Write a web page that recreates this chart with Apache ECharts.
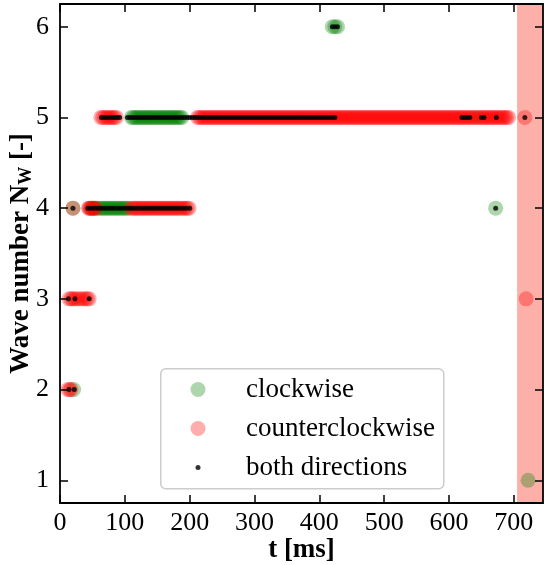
<!DOCTYPE html>
<html>
<head>
<meta charset="utf-8">
<script src="https://cdn.jsdelivr.net/npm/echarts@6/dist/echarts.min.js"></script>
<style>
html,body{margin:0;padding:0;background:#fff;}
#chart{width:544px;height:565px;}
</style>
</head>
<body>
<div id="chart"></div>
<script>
// ---- data (t in ms, per wave number row) ----
const xTicks = [0, 100, 200, 300, 400, 500, 600, 700];
const yTicks = [1, 2, 3, 4, 5, 6];
const legendNames = ['clockwise', 'counterclockwise', 'both directions'];
const shadeRange = [705, 745];

const cwRow1 = [722];
const cwRow2 = [21];
const cwRow4 = [20, 48, 52, 56, 60, 63, 66, 69, 72, 75, 78, 81, 84, 87, 90, 93, 96, 99, 102, 105, 672];
const cwRow5 = [110, 113, 116, 119, 122, 125, 128, 131, 134, 137, 140, 143, 146, 149, 152, 155, 158, 161, 164, 167, 170,
  173, 176, 179, 182, 185, 188, 641];
const cwRow6 = [420, 424, 428];

const ccwRow2 = [12, 15, 17];
const ccwRow3 = [14, 17, 20, 23, 27, 31, 35, 39, 42, 45, 719];
const ccwRow4 = [20, 44, 45, 47, 49, 51, 53, 55,
  109, 112, 115, 118, 121, 124, 127, 130, 133, 136, 139, 142, 145, 148, 151, 154, 157, 160, 163, 166, 169, 172, 175, 178,
  181, 184, 187, 190, 193, 196, 199];
const ccwRow5 = [63, 66, 69, 72, 75, 78, 81, 84, 87,
  212, 215, 218, 221, 224, 227, 230, 233, 236, 239, 242, 245, 248, 251, 254, 257, 260, 263, 266, 269, 272, 275, 278, 281,
  284, 287, 290, 293, 296, 299, 302, 305, 308, 311, 314, 317, 320, 323, 326, 329, 332, 335, 338, 341, 344, 347, 350, 353,
  356, 359, 362, 365, 368, 371, 374, 377, 380, 383, 386, 389, 392, 395, 398, 401, 404, 407, 410, 413, 416, 419, 422, 425,
  428, 431, 434, 437, 440, 443, 446, 449, 452, 455, 458, 461, 464, 467, 470, 473, 476, 479, 482, 485, 488, 491, 494, 497,
  500, 503, 506, 509, 512, 515, 518, 521, 524, 527, 530, 533, 536, 539, 542, 545, 548, 551, 554, 557, 560, 563, 566, 569,
  572, 575, 578, 581, 584, 587, 590, 593, 596, 599, 602, 605, 608, 611, 614, 617, 620, 623, 626, 629, 632, 635, 638,
  644, 647, 650, 653, 656, 659, 662, 665, 668, 671, 674, 677, 680, 683, 686, 689, 692, 717];

const bothRow2 = [14, 22];
const bothRow3 = [13, 23, 45];
const bothRow4 = [20, 43, 47, 51, 55, 59, 63, 67, 71, 75, 79, 83, 87, 91, 95, 99, 103, 107, 111, 115, 119, 123, 127, 131, 135,
  139, 143, 147, 151, 155, 159, 163, 167, 171, 175, 179, 183, 187, 191, 195, 200, 672];
const bothRow5 = [64, 68, 72, 76, 80, 84, 88, 92, 104, 108, 112, 116, 120, 124, 128, 132, 136, 140, 144, 148, 152, 156, 160,
  164, 168, 172, 176, 180, 184, 188, 192, 196, 200, 204, 208, 212, 216, 220, 224, 228, 232, 236, 240, 244, 248, 252, 256,
  260, 264, 268, 272, 276, 280, 284, 288, 292, 296, 300, 304, 308, 312, 316, 320, 324, 328, 332, 336, 340, 344, 348, 352,
  356, 360, 364, 368, 372, 376, 380, 384, 388, 392, 396, 400, 404, 408, 412, 416, 420, 424, 620, 624, 628, 632, 650, 654, 673, 717];
const bothRow6 = [420, 424, 428];

function rows(list) {
  const out = [];
  list.forEach(function (r) { r[1].forEach(function (t) { out.push([t, r[0]]); }); });
  return out;
}
const cwData = rows([[1, cwRow1], [2, cwRow2], [4, cwRow4], [5, cwRow5], [6, cwRow6]]);
const ccwData = rows([[2, ccwRow2], [3, ccwRow3], [4, ccwRow4], [5, ccwRow5]]);
const bothData = rows([[2, bothRow2], [3, bothRow3], [4, bothRow4], [5, bothRow5], [6, bothRow6]]);

const FONT = 'Liberation Serif';
const chart = echarts.init(document.getElementById('chart'), null, {renderer: 'canvas'});

function axisBase(extra) {
  return Object.assign({
    type: 'value',
    splitLine: {show: false},
    axisLine: {onZero: false, lineStyle: {color: '#000', width: 1.8}},
    nameMoveOverlap: false,
    z: 5
  }, extra);
}

const option = {
  animation: false,
  backgroundColor: '#fff',
  grid: {left: 60, right: 1, top: 4, bottom: 62, containLabel: false, outerBoundsMode: 'none'},
  xAxis: [
    axisBase({
      min: 0, max: 745, position: 'bottom',
      axisTick: {inside: true, length: 8, lineStyle: {color: '#000', width: 1.5}, customValues: xTicks},
      axisLabel: {customValues: xTicks, fontSize: 26, fontFamily: FONT, color: '#000', margin: 7},
      name: 't [ms]', nameLocation: 'middle', nameGap: 34,
      nameTextStyle: {fontSize: 27, fontWeight: 'bold', fontFamily: FONT, color: '#000'}
    }),
    axisBase({
      min: 0, max: 745, position: 'top',
      axisTick: {inside: true, length: 8, lineStyle: {color: '#000', width: 1.5}, customValues: xTicks},
      axisLabel: {show: false}
    })
  ],
  yAxis: [
    axisBase({
      min: 0.75, max: 6.25, position: 'left',
      axisTick: {inside: true, length: 8, lineStyle: {color: '#000', width: 1.5}, customValues: yTicks},
      axisLabel: {customValues: yTicks, fontSize: 26, fontFamily: FONT, color: '#000', margin: 11},
      name: '{a|Wave number N}{s|W}{a| [-]}', nameLocation: 'middle', nameGap: 25, nameRotate: 90,
      nameTextStyle: {
        fontSize: 27, fontWeight: 'bold', fontFamily: FONT, color: '#000',
        rich: {
          a: {fontSize: 27, fontWeight: 'bold', fontFamily: FONT, color: '#000'},
          s: {fontSize: 18, fontWeight: 'bold', fontFamily: FONT, color: '#000', padding: [10, 0, 0, 0]}
        }
      }
    }),
    axisBase({
      min: 0.75, max: 6.25, position: 'right',
      axisTick: {inside: true, length: 8, lineStyle: {color: '#000', width: 1.5}, customValues: yTicks},
      axisLabel: {show: false}
    })
  ],
  legend: [
    {data: [legendNames[0]], left: 185.5, top: 371, icon: 'circle', itemWidth: 15, itemHeight: 15, selectedMode: false,
     textStyle: {fontSize: 27, fontFamily: FONT, color: '#000', padding: [0, 0, 0, 35.5]}},
    {data: [legendNames[1]], left: 185.5, top: 410, icon: 'circle', itemWidth: 15, itemHeight: 15, selectedMode: false,
     textStyle: {fontSize: 27, fontFamily: FONT, color: '#000', padding: [0, 0, 0, 35.5]}},
    {data: [legendNames[2]], left: 190.5, top: 449, icon: 'circle', itemWidth: 5, itemHeight: 5, selectedMode: false,
     textStyle: {fontSize: 27, fontFamily: FONT, color: '#000', padding: [0, 0, 0, 40.5]}}
  ],
  graphic: [{
    type: 'rect', left: 160, top: 368, z: 3,
    shape: {width: 283, height: 120, r: 5},
    style: {fill: 'rgba(255,255,255,0.8)', stroke: '#cccccc', lineWidth: 1.5}
  }],
  series: [
    {type: 'scatter', xAxisIndex: 0, yAxisIndex: 0, data: [], z: 1, silent: true,
     markArea: {silent: true, itemStyle: {color: 'rgba(250,128,114,0.62)'},
       data: [[{coord: [shadeRange[0], 0.75]}, {coord: [shadeRange[1], 6.25]}]]}},
    {name: legendNames[0], type: 'scatter', data: cwData, symbolSize: 15, z: 2,
     itemStyle: {color: 'rgba(0,128,0,0.4)'}},
    {name: legendNames[1], type: 'scatter', data: ccwData, symbolSize: 15, z: 2,
     itemStyle: {color: 'rgba(255,0,0,0.4)'}},
    {name: legendNames[2], type: 'scatter', data: bothData, symbolSize: 5, z: 2,
     itemStyle: {color: '#000'}}
  ]
};
chart.setOption(option);
</script>
</body>
</html>
